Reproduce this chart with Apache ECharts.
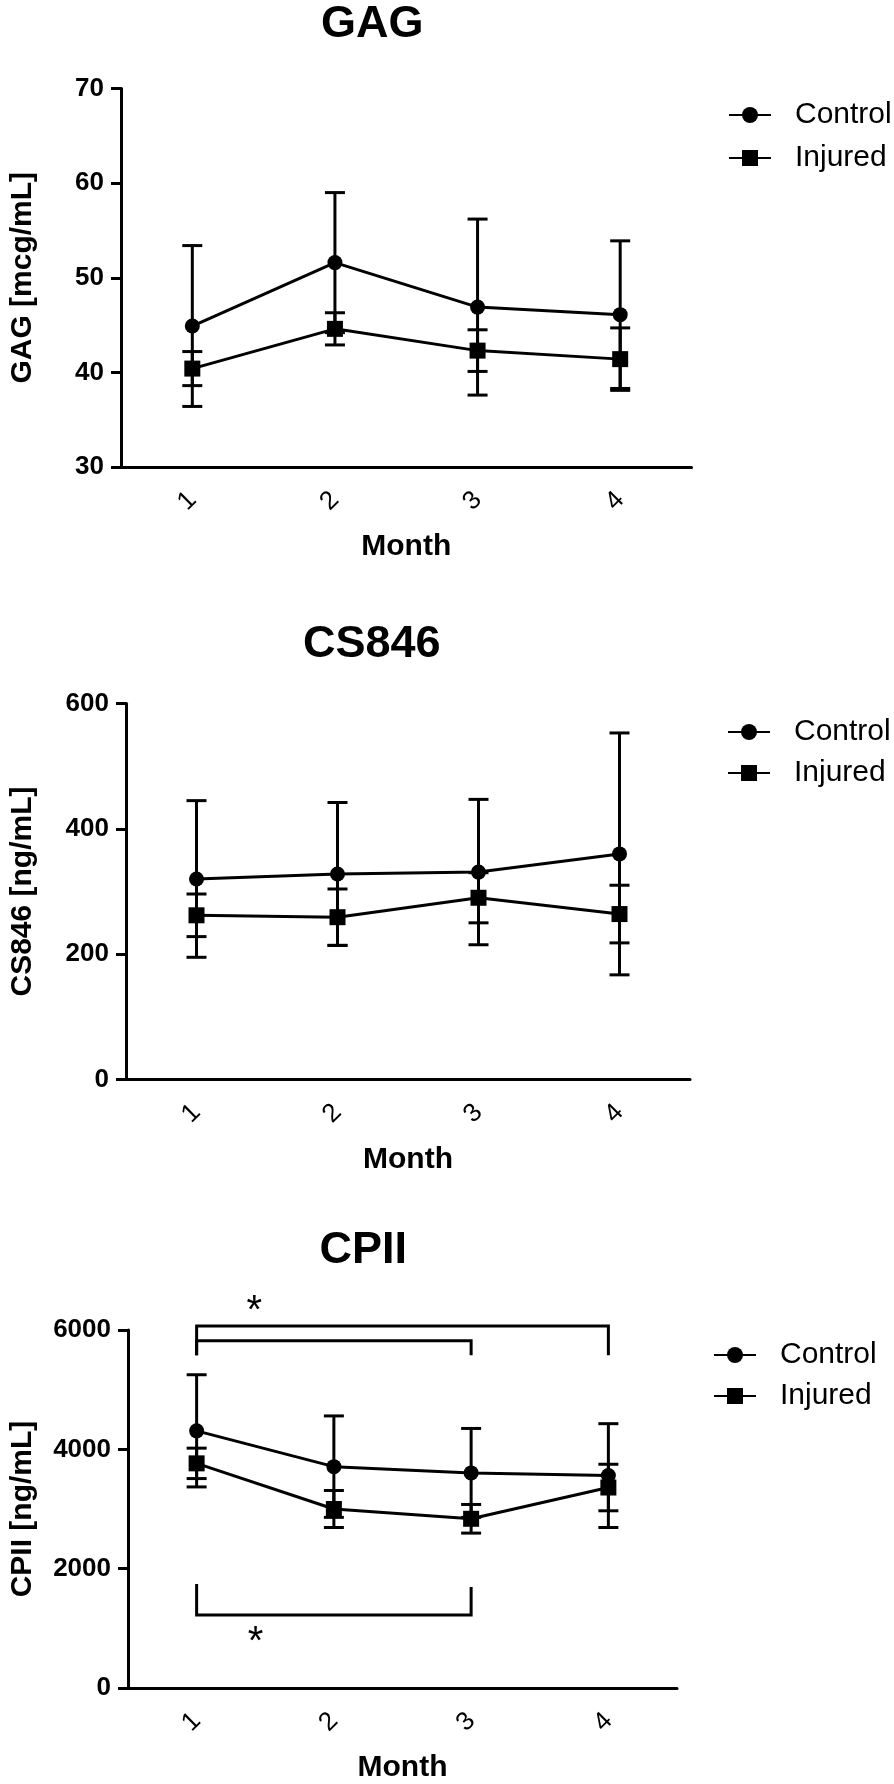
<!DOCTYPE html>
<html><head><meta charset="utf-8">
<script src="https://cdn.jsdelivr.net/npm/echarts@6/dist/echarts.min.js"></script>
<style>html,body{margin:0;padding:0;background:#fff}#c{width:894px;height:1784px}</style>
</head><body><div id="c"></div>
<script>
// ---------- data ----------
const months = ['1', '2', '3', '4'];
const seriesNames = ['Control', 'Injured'];
const panelTitles = ['GAG', 'CS846', 'CPII'];
const yAxisNames = ['GAG [mcg/mL]', 'CS846 [ng/mL]', 'CPII [ng/mL]'];
const xAxisName = 'Month';
const yTicks = [[30, 70, 10], [0, 600, 200], [0, 6000, 2000]]; // min, max, step

const gagControl = [44.9, 51.6, 46.9, 46.1];
const gagControlSD = [8.5, 7.4, 9.3, 7.8];
const gagInjured = [40.4, 44.6, 42.3, 41.4];
const gagInjuredSD = [1.8, 1.7, 2.2, 3.3];

const csControl = [320, 328, 331, 360];
const csControlSD = [125, 114, 116, 193];
const csInjured = [262, 259, 290, 264];
const csInjuredSD = [34, 45, 40, 46];

const cpControl = [4310, 3710, 3605, 3560];
const cpControlSD = [940, 850, 745, 870];
const cpInjured = [3765, 3000, 2836, 3360];
const cpInjuredSD = [255, 310, 240, 390];

// CPII significance brackets: [fromMonth, toMonth, barLevel, endLevelFrom, endLevelTo]
const cpBrackets = [[1, 4, 6065, 5575, 5575], [1, 3, 5820, 5575, 5575], [1, 3, 1224, 1743, 1694]];
// CPII significance stars: [month position, level]
const cpStars = [[1.42, 6295], [1.43, 761]];
const starText = '*';

// ---------- layout / style ----------
const FONT = "'Liberation Sans', Arial, sans-serif";
const grids = [
  { left: 118, top: 88.5, width: 573.5, height: 378.5 },
  { left: 123, top: 703.5, width: 567, height: 376 },
  { left: 125, top: 1330, width: 552, height: 366.5 }
];
const titlePos = [{ left: 321, top: 2.5 }, { left: 303, top: 622 }, { left: 319.5, top: 1228.5 }];
const legendPos = [{ left: 728, top: 100, gap: 13 }, { left: 727, top: 717, gap: 11 }, { left: 713, top: 1340, gap: 11 }];
const yNameGap = [83, 88, 90];

const panels = [
  [gagControl, gagControlSD, gagInjured, gagInjuredSD],
  [csControl, csControlSD, csInjured, csInjuredSD],
  [cpControl, cpControlSD, cpInjured, cpInjuredSD]
];

function errRender(params, api) {
  const x = api.value(0), lo = api.value(1), hi = api.value(2);
  const p1 = api.coord([x, hi]), p2 = api.coord([x, lo]);
  const hw = 10;
  const style = { stroke: '#000', lineWidth: 3 };
  return {
    type: 'group', children: [
      { type: 'line', shape: { x1: p1[0], y1: p1[1], x2: p2[0], y2: p2[1] }, style },
      { type: 'line', shape: { x1: p1[0] - hw, y1: p1[1], x2: p1[0] + hw, y2: p1[1] }, style },
      { type: 'line', shape: { x1: p2[0] - hw, y1: p2[1], x2: p2[0] + hw, y2: p2[1] }, style }
    ]
  };
}
function bracketRender(params, api) {
  const a = api.coord([api.value(0), api.value(3)]);
  const b = api.coord([api.value(0), api.value(2)]);
  const c = api.coord([api.value(1), api.value(2)]);
  const d = api.coord([api.value(1), api.value(4)]);
  return {
    type: 'polyline',
    shape: { points: [a, b, c, d] },
    style: { stroke: '#000', lineWidth: 3, fill: null }
  };
}
function starRender(params, api) {
  const p = api.coord([api.value(0), api.value(1)]);
  return {
    type: 'text', x: p[0], y: p[1],
    style: { text: starText, fill: '#000', font: '40px ' + FONT, align: 'center', verticalAlign: 'middle' }
  };
}

const title = [], xAxis = [], yAxis = [], legend = [], series = [];
panels.forEach((p, k) => {
  title.push({
    text: panelTitles[k], left: titlePos[k].left, top: titlePos[k].top, padding: 0,
    textStyle: { fontSize: 45, lineHeight: 45, fontWeight: 'bold', color: '#000', fontFamily: FONT }
  });
  legend.push({
    orient: 'vertical', left: legendPos[k].left, top: legendPos[k].top, padding: 0,
    itemWidth: 42, itemHeight: 20, itemGap: legendPos[k].gap, selectedMode: false,
    data: seriesNames,
    textStyle: { fontSize: 30, lineHeight: 30, color: '#000', fontFamily: FONT, padding: [0, 0, 0, 19] }
  });
  xAxis.push({
    type: 'category', gridIndex: k, data: months, boundaryGap: true,
    axisLine: { lineStyle: { color: '#000', width: 3 } },
    axisTick: { alignWithLabel: true, length: 10, lineStyle: { color: '#000', width: 3 } },
    axisLabel: { rotate: 45, fontSize: 26, color: '#000', margin: 29, fontFamily: FONT },
    name: xAxisName, nameLocation: 'middle', nameGap: 65,
    nameTextStyle: { fontSize: 30, fontWeight: 'bold', color: '#000', fontFamily: FONT }
  });
  yAxis.push({
    type: 'value', gridIndex: k, min: yTicks[k][0], max: yTicks[k][1], interval: yTicks[k][2],
    axisLine: { show: true, lineStyle: { color: '#000', width: 3 } },
    axisTick: { show: true, length: 10, lineStyle: { color: '#000', width: 3 } },
    splitLine: { show: false },
    axisLabel: { fontSize: 26, fontWeight: 'bold', color: '#000', margin: 17, fontFamily: FONT,
                 formatter: (v) => String(v) },
    name: yAxisNames[k], nameLocation: 'middle', nameGap: yNameGap[k],
    nameTextStyle: { fontSize: 30, fontWeight: 'bold', color: '#000', fontFamily: FONT }
  });
  [[p[0], p[1], 'circle', 15], [p[2], p[3], 'rect', 16]].forEach(([m, sd, sym, size], j) => {
    series.push({
      type: 'custom', name: seriesNames[j] + ' SD', xAxisIndex: k, yAxisIndex: k,
      renderItem: errRender, clip: false, z: 2,
      data: m.map((v, i) => [i, v - sd[i], v + sd[i]])
    });
    series.push({
      type: 'line', name: seriesNames[j], xAxisIndex: k, yAxisIndex: k,
      data: m, symbol: sym, symbolSize: size, showSymbol: true,
      lineStyle: { color: '#000', width: 3 }, itemStyle: { color: '#000' }, z: 3
    });
  });
});
// hidden numeric x axis for CPII annotations (months 1..4 centred in bands)
xAxis.push({ type: 'value', gridIndex: 2, min: 0.5, max: 4.5, show: false });
series.push({
  type: 'custom', name: 'brackets', xAxisIndex: 3, yAxisIndex: 2, clip: false, z: 4,
  renderItem: bracketRender, data: cpBrackets
});
series.push({
  type: 'custom', name: 'stars', xAxisIndex: 3, yAxisIndex: 2, clip: false, z: 4,
  renderItem: starRender, data: cpStars
});

const chart = echarts.init(document.getElementById('c'), null, { renderer: 'canvas' });
chart.setOption({
  animation: false, backgroundColor: '#fff',
  textStyle: { fontFamily: FONT },
  title, legend, grid: grids, xAxis, yAxis, series
});
</script></body></html>
